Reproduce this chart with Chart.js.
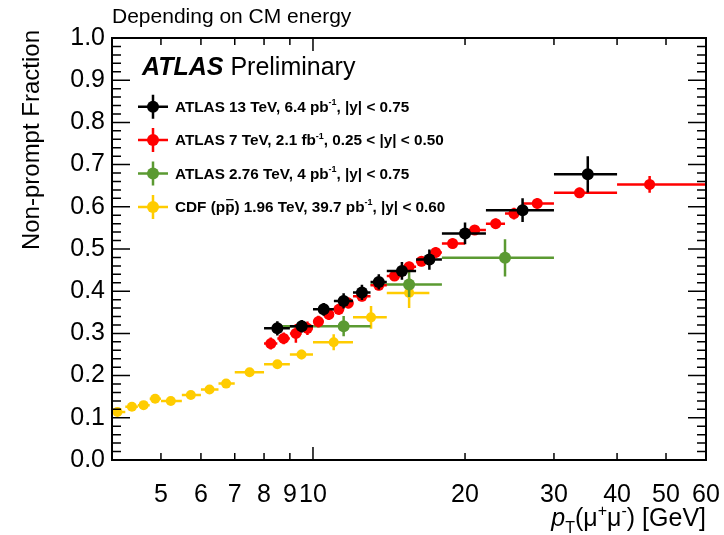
<!DOCTYPE html>
<html>
<head>
<meta charset="utf-8">
<script src="https://cdn.jsdelivr.net/npm/chart.js@4/dist/chart.umd.min.js"></script>
<style>
  body { margin: 0; background: #fff; }
  canvas { display: block; }
</style>
</head>
<body>
<canvas id="npf-chart" width="724" height="535"></canvas>
<script>
// tick labels on the log pT axis
const xTickVals = [5, 6, 7, 8, 9, 10, 20, 30, 40, 50, 60];

// ATLAS 13 TeV, 6.4 pb-1, |y| < 0.75
const atlas13X = [8.5, 9.5, 10.5, 11.5, 12.5, 13.5, 15, 17, 20, 26, 35];
const atlas13Y = [0.312, 0.317, 0.357, 0.377, 0.397, 0.422, 0.448, 0.475, 0.537, 0.592, 0.677];
const atlas13Lo = [8, 9, 10, 11, 12, 13, 14, 16, 18, 22, 30];
const atlas13Hi = [9, 10, 11, 12, 13, 14, 16, 18, 22, 30, 40];
const atlas13Err = [0.017, 0.015, 0.015, 0.018, 0.018, 0.018, 0.021, 0.024, 0.026, 0.028, 0.043];

// ATLAS 7 TeV, 2.1 fb-1, 0.25 < |y| < 0.50
const atlas7X = [8.25, 8.75, 9.25, 9.75, 10.25, 10.75, 11.25, 11.75, 12.5, 13.5, 14.5, 15.5, 16.4, 17.5, 18.9, 20.9, 23, 25, 27.8, 33.7, 46.4];
const atlas7Y = [0.276, 0.288, 0.300, 0.312, 0.328, 0.345, 0.357, 0.372, 0.388, 0.414, 0.436, 0.458, 0.471, 0.492, 0.513, 0.545, 0.560, 0.584, 0.608, 0.633, 0.653];
const atlas7Lo = [8, 8.5, 9, 9.5, 10, 10.5, 11, 11.5, 12, 13, 14, 15, 16, 17, 18, 20, 22, 24, 26, 30, 40];
const atlas7Hi = [8.5, 9, 9.5, 10, 10.5, 11, 11.5, 12, 13, 14, 15, 16, 17, 18, 20, 22, 24, 26, 30, 40, 60];
const atlas7Err = [0.014, 0.014, 0.022, 0.016, 0.014, 0.013, 0.013, 0.013, 0.012, 0.012, 0.012, 0.012, 0.012, 0.012, 0.012, 0.012, 0.012, 0.014, 0.012, 0.012, 0.02];

// ATLAS 2.76 TeV, 4 pb-1, |y| < 0.75
const atlas276X = [11.5, 15.5, 24];
const atlas276Y = [0.317, 0.416, 0.479];
const atlas276Lo = [8.5, 13, 18];
const atlas276Hi = [13, 18, 30];
const atlas276Err = [0.024, 0.03, 0.044];

// CDF (p pbar) 1.96 TeV, 39.7 pb-1, |y| < 0.60
const cdfX = [4.1, 4.38, 4.62, 4.87, 5.23, 5.73, 6.24, 6.73, 7.49, 8.5, 9.49, 10.99, 13.03, 15.5];
const cdfY = [0.114, 0.126, 0.130, 0.145, 0.140, 0.154, 0.167, 0.181, 0.208, 0.227, 0.250, 0.279, 0.338, 0.396];
const cdfLo = [4.0, 4.25, 4.5, 4.75, 5.0, 5.5, 6.0, 6.5, 7, 8, 9, 10, 12, 14];
const cdfHi = [4.25, 4.5, 4.75, 5.0, 5.5, 6.0, 6.5, 7, 8, 9, 10, 12, 14, 17];
const cdfErr = [0.005, 0.005, 0.005, 0.005, 0.006, 0.006, 0.006, 0.006, 0.007, 0.009, 0.011, 0.019, 0.027, 0.036];

const FONT = "'Liberation Sans', Arial, Helvetica, sans-serif";
const BLACK = "#000000", RED = "#ff0000", GREEN = "#5b9a32", YELLOW = "#ffcc00";

function makeSet(label, color, xs, ys, lo, hi, err, r) {
    return {
        label: label,
        data: xs.map((x, i) => ({ x: x, y: ys[i] })),
        xLo: lo, xHi: hi, yErr: err,
        backgroundColor: color,
        borderColor: color,
        pointRadius: r,
        pointHoverRadius: r,
        borderWidth: 0,
        showLine: false,
    };
}

// error bars, drawn right before each dataset's markers
const errorBars = {
    id: "errorBars",
    beforeDatasetDraw(chart, args) {
        const ds = chart.data.datasets[args.index];
        const xs = chart.scales.x, ys = chart.scales.y;
        const c = chart.ctx;
        c.save();
        c.strokeStyle = ds.borderColor;
        c.lineWidth = 2.5;
        c.beginPath();
        ds.data.forEach((p, i) => {
            const py = ys.getPixelForValue(p.y);
            const px = xs.getPixelForValue(p.x);
            c.moveTo(xs.getPixelForValue(ds.xLo[i]), py);
            c.lineTo(xs.getPixelForValue(ds.xHi[i]), py);
            c.moveTo(px, ys.getPixelForValue(p.y - ds.yErr[i]));
            c.lineTo(px, ys.getPixelForValue(p.y + ds.yErr[i]));
        });
        c.stroke();
        c.restore();
    },
};

// draw runs of text with superscripts / subscripts
function drawRich(c, parts, x, y, size, weight, align) {
    const fontOf = (p) => {
        const s = p.sup || p.sub ? Math.round(size * 0.62) : size;
        return (p.italic ? "italic " : "") + (p.bold || weight === "bold" ? "bold " : "") + s + "px " + FONT;
    };
    let total = 0;
    parts.forEach((p) => { c.font = fontOf(p); total += c.measureText(p.t).width; });
    let cx = align === "right" ? x - total : x;
    parts.forEach((p) => {
        c.font = fontOf(p);
        let dy = 0;
        if (p.sup) dy = -size * 0.42;
        if (p.sub) dy = size * 0.28;
        c.fillText(p.t, cx, y + dy);
        const w = c.measureText(p.t).width;
        if (p.bar) {
            c.save();
            c.lineWidth = 1.2;
            c.strokeStyle = c.fillStyle;
            c.beginPath();
            c.moveTo(cx + 1, y - size * 0.8);
            c.lineTo(cx + w - 1, y - size * 0.8);
            c.stroke();
            c.restore();
        }
        cx += w;
    });
}

const frameAndText = {
    id: "frameAndText",
    afterDraw(chart) {
        const c = chart.ctx;
        const a = chart.chartArea;
        const xs = chart.scales.x, ys = chart.scales.y;
        c.save();
        c.strokeStyle = "#000";
        c.lineWidth = 2;
        c.strokeRect(a.left, a.top, a.right - a.left, a.bottom - a.top);

        // x ticks (bottom + top), inward
        c.lineWidth = 1.5;
        c.beginPath();
        const xMinor = [5, 6, 7, 8, 9, 20, 30, 40, 50];
        xMinor.concat([10]).forEach((v) => {
            const px = xs.getPixelForValue(v);
            const len = v === 10 ? 13 : 7;
            c.moveTo(px, a.bottom);
            c.lineTo(px, a.bottom - len);
            c.moveTo(px, a.top);
            c.lineTo(px, a.top + len);
        });
        // y ticks (left + right), inward
        for (let k = 0; k <= 50; k++) {
            const v = k * 0.02;
            const py = ys.getPixelForValue(v);
            const len = k % 5 === 0 ? 18 : 9;
            c.moveTo(a.left, py);
            c.lineTo(a.left + len, py);
            c.moveTo(a.right, py);
            c.lineTo(a.right - len, py);
        }
        c.stroke();

        c.fillStyle = "#000";
        c.textBaseline = "alphabetic";
        c.textAlign = "left";

        // header
        c.font = "21px " + FONT;
        c.fillText("Depending on CM energy", 112, 23);

        // ATLAS Preliminary
        c.font = "italic bold 25px " + FONT;
        c.fillText("ATLAS", 142, 75);
        const wA = c.measureText("ATLAS ").width;
        c.font = "25px " + FONT;
        c.fillText("Preliminary", 142 + wA, 75);

        // legend
        const entries = [
            { color: BLACK, r: 6, parts: [{ t: "ATLAS 13 TeV, 6.4 pb" }, { t: "-1", sup: true }, { t: ", |y| < 0.75" }] },
            { color: RED, r: 6, parts: [{ t: "ATLAS 7 TeV, 2.1 fb" }, { t: "-1", sup: true }, { t: ", 0.25 < |y| < 0.50" }] },
            { color: GREEN, r: 6, parts: [{ t: "ATLAS 2.76 TeV, 4 pb" }, { t: "-1", sup: true }, { t: ", |y| < 0.75" }] },
            { color: YELLOW, r: 6, parts: [{ t: "CDF (p" }, { t: "p", bar: true }, { t: ") 1.96 TeV, 39.7 pb" }, { t: "-1", sup: true }, { t: ", |y| < 0.60" }] },
        ];
        entries.forEach((e, i) => {
            const my = 106.7 + i * 33.4;
            const mx = 153;
            c.strokeStyle = e.color;
            c.lineWidth = 2.5;
            c.beginPath();
            c.moveTo(mx - 15, my); c.lineTo(mx + 15, my);
            c.moveTo(mx, my - 12); c.lineTo(mx, my + 12);
            c.stroke();
            c.fillStyle = e.color;
            c.beginPath();
            c.arc(mx, my, e.r, 0, Math.PI * 2);
            c.fill();
            c.fillStyle = "#000";
            drawRich(c, e.parts, 175, my + 5, 15.3, "bold", "left");
        });

        // y axis title
        c.save();
        c.translate(39, 30);
        c.rotate(-Math.PI / 2);
        c.textAlign = "right";
        c.font = "24px " + FONT;
        c.fillText("Non-prompt Fraction", 0, 0);
        c.restore();

        // x axis title
        c.textAlign = "left";
        drawRich(c, [
            { t: "p", italic: true },
            { t: "T", sub: true },
            { t: "(\u03bc" },
            { t: "+", sup: true },
            { t: "\u03bc" },
            { t: "-", sup: true },
            { t: ") [GeV]" },
        ], 706, 526, 25, "normal", "right");
        c.restore();
    },
};

const ctx = document.querySelector("#npf-chart");
new Chart(ctx, {
    type: "scatter",
    data: {
        datasets: [
            makeSet("ATLAS 13 TeV", BLACK, atlas13X, atlas13Y, atlas13Lo, atlas13Hi, atlas13Err, 6),
            makeSet("ATLAS 7 TeV", RED, atlas7X, atlas7Y, atlas7Lo, atlas7Hi, atlas7Err, 5.5),
            makeSet("ATLAS 2.76 TeV", GREEN, atlas276X, atlas276Y, atlas276Lo, atlas276Hi, atlas276Err, 6),
            makeSet("CDF 1.96 TeV", YELLOW, cdfX, cdfY, cdfLo, cdfHi, cdfErr, 5),
        ],
    },
    options: {
        responsive: false,
        animation: false,
        layout: { padding: { left: 0, top: 38, right: 18, bottom: 0 } },
        plugins: {
            legend: { display: false },
            tooltip: { enabled: false },
        },
        scales: {
            x: {
                type: "logarithmic",
                min: 4,
                max: 60,
                grid: { display: false, drawTicks: false },
                border: { display: false },
                afterBuildTicks: (scale) => {
                    scale.ticks = xTickVals.map((v) => ({ value: v }));
                },
                afterFit: (scale) => {
                    scale.height = 75;
                    scale.paddingLeft = 0;
                    scale.paddingRight = 0;
                },
                ticks: {
                    autoSkip: false,
                    maxRotation: 0,
                    padding: 20,
                    color: "#000",
                    font: { family: FONT, size: 25 },
                    callback: (v) => String(v),
                },
            },
            y: {
                min: 0,
                max: 1,
                grid: { display: false, drawTicks: false },
                border: { display: false },
                afterFit: (scale) => {
                    scale.width = 112;
                    scale.paddingTop = 0;
                    scale.paddingBottom = 0;
                },
                ticks: {
                    stepSize: 0.1,
                    padding: 7,
                    color: "#000",
                    font: { family: FONT, size: 25 },
                    callback: (v) => v.toFixed(1),
                },
            },
        },
    },
    plugins: [errorBars, frameAndText],
});
</script>
</body>
</html>
